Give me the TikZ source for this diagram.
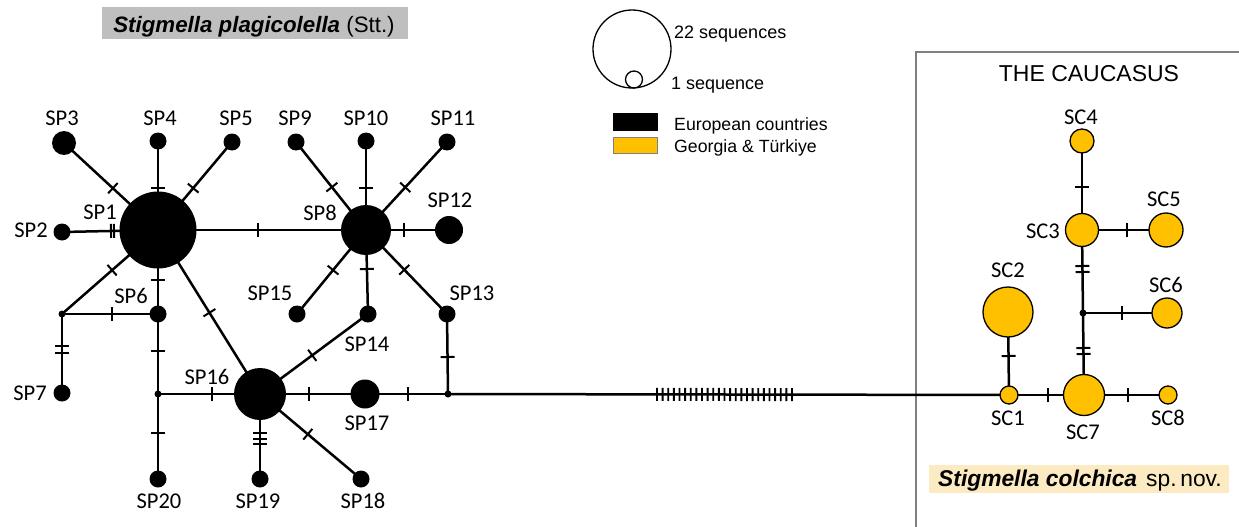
\documentclass[tikz,border=0pt]{standalone}
\usepackage{fontspec}
\setmainfont{Liberation Sans}
\newfontfamily\labfont{Carlito}
\usetikzlibrary{decorations.markings}
\pgfdeclarelayer{bg}
\pgfsetlayers{bg,main}
\definecolor{hapY}{HTML}{FFC000}
\definecolor{titleGray}{HTML}{BFBFBF}
\definecolor{colchBg}{HTML}{FCEBC2}
\definecolor{boxGray}{HTML}{808080}
\begin{document}
\begin{tikzpicture}[x=1pt,y=-1pt,
  edge/.style={line width=2.5pt},
  tk/.style={postaction={decorate,decoration={markings,mark=at position #1pt with {\draw[line width=2pt] (0pt,-7pt)--(0pt,7pt);}}}},
  hatch/.style={postaction={decorate,decoration={markings,mark=between positions 209pt and 344pt step 5.625pt with {\draw[line width=1.9pt] (0pt,-6.5pt)--(0pt,6.5pt);}}}},
  hb/.style={circle,fill=black,inner sep=0pt,minimum size=#1},
  hy/.style={circle,fill=hapY,draw=black,line width=1.3pt,inner sep=0pt,minimum size=#1},
  jn/.style={circle,fill=black,inner sep=0pt,minimum size=7pt},
  lab/.style={font=\labfont\fontsize{22.5}{24}\selectfont,inner sep=0pt},
  sans/.style={inner sep=0pt},
]
\useasboundingbox (0,0) rectangle (1239,527);

% ---------- title ----------
\node[fill=titleGray,minimum width=306pt,minimum height=32pt,inner sep=0pt] (titlebox) at (255,23) {};
\node[sans,anchor=base,font=\fontsize{22.3}{24}\selectfont] (title) at (254,33) {{\bfseries\itshape Stigmella plagicolella} (Stt.)};

% ---------- legend ----------
\node[circle,draw,line width=1.3pt,minimum size=78pt,inner sep=0pt] (lgBig) at (632,49) {};
\node[circle,draw,line width=1.3pt,minimum size=17pt,inner sep=0pt] (lgSmall) at (634,79.5) {};
\node[sans,anchor=base west,font=\fontsize{18}{20}\selectfont] (lg22) at (674,39) {22 sequences};
\node[sans,anchor=base west,font=\fontsize{18}{20}\selectfont] (lg1) at (671,89) {1 sequence};
\node[fill=black,minimum width=45pt,minimum height=18pt,inner sep=0pt] (lgEu) at (635.5,122) {};
\node[fill=hapY,draw=boxGray,line width=1pt,minimum width=44pt,minimum height=16pt,inner sep=0pt] (lgGe) at (635.5,145.5) {};
\node[sans,anchor=base west,font=\fontsize{17.7}{20}\selectfont] (lgEuT) at (674,130) {European countries};
\node[sans,anchor=base west,font=\fontsize{17.7}{20}\selectfont] (lgGeT) at (674,152) {Georgia \& Türkiye};

% ---------- Caucasus box ----------
\coordinate (bxB) at (916,527);
\coordinate (bxTL) at (916,52);
\coordinate (bxTR) at (1239,52);
\node[sans,font=\fontsize{23}{24}\selectfont] (cauc) at (1089,74) {THE CAUCASUS};
\node[fill=colchBg,minimum width=300pt,minimum height=28pt,inner sep=0pt] (colbox) at (1079,479) {};
\node[sans,anchor=base,font=\fontsize{22.8}{24}\selectfont] (colT) at (1080,486) {{\bfseries\itshape Stigmella colchica}\hspace{9pt}sp.\,nov.};

% ---------- S. plagicolella haplotypes ----------
\node[hb=77pt] (SP1) at (158,230) {};
\node[hb=17pt] (SP2) at (62,232) {};
\node[hb=24pt] (SP3) at (64,143) {};
\node[hb=17pt] (SP4) at (158,141) {};
\node[hb=17pt] (SP5) at (232,142) {};
\node[hb=17pt] (SP6) at (158,314) {};
\node[jn] (J1) at (62,314) {};
\node[hb=17pt] (SP7) at (62,393) {};
\node[jn] (J2) at (158,394) {};
\node[hb=50pt] (SP8) at (366,230) {};
\node[hb=17pt] (SP9) at (296,142) {};
\node[hb=17pt] (SP10) at (366,141) {};
\node[hb=17pt] (SP11) at (447,142) {};
\node[hb=28pt] (SP12) at (449,230) {};
\node[hb=17pt] (SP13) at (447,314) {};
\node[hb=17pt] (SP14) at (368,314) {};
\node[hb=17pt] (SP15) at (297,314) {};
\node[hb=52pt] (SP16) at (260,394) {};
\node[hb=29pt] (SP17) at (365,394) {};
\node[jn] (J3) at (448,394) {};
\node[hb=17pt] (SP18) at (361,479) {};
\node[hb=17pt] (SP19) at (260,479) {};
\node[hb=17pt] (SP20) at (158,479) {};

% ---------- S. colchica haplotypes ----------
\node[hy=18pt] (SC1) at (1009,395) {};
\node[hy=50pt] (SC2) at (1008,312) {};
\node[hy=33pt] (SC3) at (1082,230) {};
\node[hy=24pt] (SC4) at (1082,141) {};
\node[hy=34pt] (SC5) at (1166,230) {};
\node[hy=30pt] (SC6) at (1167,313) {};
\node[jn] (J4) at (1083,313) {};
\node[hy=41pt] (SC7) at (1084,395) {};
\node[hy=18pt] (SC8) at (1168,395) {};

% ---------- labels ----------
\node[lab] (lSP1) at (100,212) {SP1};
\node[lab] (lSP2) at (31,230) {SP2};
\node[lab] (lSP3) at (62,118) {SP3};
\node[lab] (lSP4) at (160,118) {SP4};
\node[lab] (lSP5) at (236,118) {SP5};
\node[lab] (lSP6) at (131,296) {SP6};
\node[lab] (lSP7) at (30,393) {SP7};
\node[lab] (lSP8) at (320,213) {SP8};
\node[lab] (lSP9) at (295,118) {SP9};
\node[lab] (lSP10) at (366,118) {SP10};
\node[lab] (lSP11) at (453,118) {SP11};
\node[lab] (lSP12) at (450,200) {SP12};
\node[lab] (lSP13) at (472,293) {SP13};
\node[lab] (lSP14) at (367,344) {SP14};
\node[lab] (lSP15) at (270,293) {SP15};
\node[lab] (lSP16) at (207,377) {SP16};
\node[lab] (lSP17) at (367,423) {SP17};
\node[lab] (lSP18) at (363,501) {SP18};
\node[lab] (lSP19) at (258,501) {SP19};
\node[lab] (lSP20) at (159,501) {SP20};
\node[lab] (lSC1) at (1008,418) {SC1};
\node[lab] (lSC2) at (1008,270) {SC2};
\node[lab] (lSC3) at (1043,231) {SC3};
\node[lab] (lSC4) at (1081,117) {SC4};
\node[lab] (lSC5) at (1164,199) {SC5};
\node[lab] (lSC6) at (1166,285) {SC6};
\node[lab] (lSC7) at (1083,432) {SC7};
\node[lab] (lSC8) at (1168,418) {SC8};

% ---------- connectors ----------
\begin{pgfonlayer}{bg}
\draw[boxGray,line width=1.2pt] (bxB) -- (bxTL) -- (bxTR);
\draw[edge,tk=61.5] (SP1.center) -- (SP3.center);
\draw[edge,tk=42] (SP1.center) -- (SP4.center);
\draw[edge,tk=54.7] (SP1.center) -- (SP5.center);
\draw[edge,tk=44,tk=47] (SP1.center) -- (SP2.center);
\draw[edge,tk=61] (SP1.center) -- (J1.center);
\draw[edge,tk=50] (SP1.center) -- (SP6.center);
\draw[edge,tk=97.4] (SP1.center) -- (SP16.center);
\draw[edge,tk=100] (SP1.center) -- (SP8.center);
\draw[edge,tk=50] (J1.center) -- (SP6.center);
\draw[edge,tk=32,tk=39] (J1.center) -- (SP7.center);
\draw[edge,tk=37] (SP6.center) -- (J2.center);
\draw[edge,tk=54] (J2.center) -- (SP16.center);
\draw[edge,tk=39] (J2.center) -- (SP20.center);
\draw[edge,tk=39,tk=44.5,tk=50] (SP16.center) -- (SP19.center);
\draw[edge,tk=62.5] (SP16.center) -- (SP18.center);
\draw[edge,tk=65] (SP16.center) -- (SP14.center);
\draw[edge,tk=49] (SP16.center) -- (SP17.center);
\draw[edge,tk=43] (SP17.center) -- (J3.center);
\draw[edge,tk=37] (J3.center) -- (SP13.center);
\draw[edge,tk=54.8] (SP8.center) -- (SP9.center);
\draw[edge,tk=42] (SP8.center) -- (SP10.center);
\draw[edge,tk=58] (SP8.center) -- (SP11.center);
\draw[edge,tk=38] (SP8.center) -- (SP12.center);
\draw[edge,tk=51.9] (SP8.center) -- (SP15.center);
\draw[edge,tk=39] (SP8.center) -- (SP14.center);
\draw[edge,tk=55.2] (SP8.center) -- (SP13.center);
\draw[edge,hatch] (J3.center) -- (SC1.center);
\draw[edge,tk=46] (SC4.center) -- (SC3.center);
\draw[edge,tk=45] (SC3.center) -- (SC5.center);
\draw[edge,tk=36,tk=42] (SC3.center) -- (J4.center);
\draw[edge,tk=39] (J4.center) -- (SC6.center);
\draw[edge,tk=35,tk=41] (J4.center) -- (SC7.center);
\draw[edge,tk=44] (SC2.center) -- (SC1.center);
\draw[edge,tk=39] (SC1.center) -- (SC7.center);
\draw[edge,tk=44] (SC7.center) -- (SC8.center);
\end{pgfonlayer}
\end{tikzpicture}
\end{document}
